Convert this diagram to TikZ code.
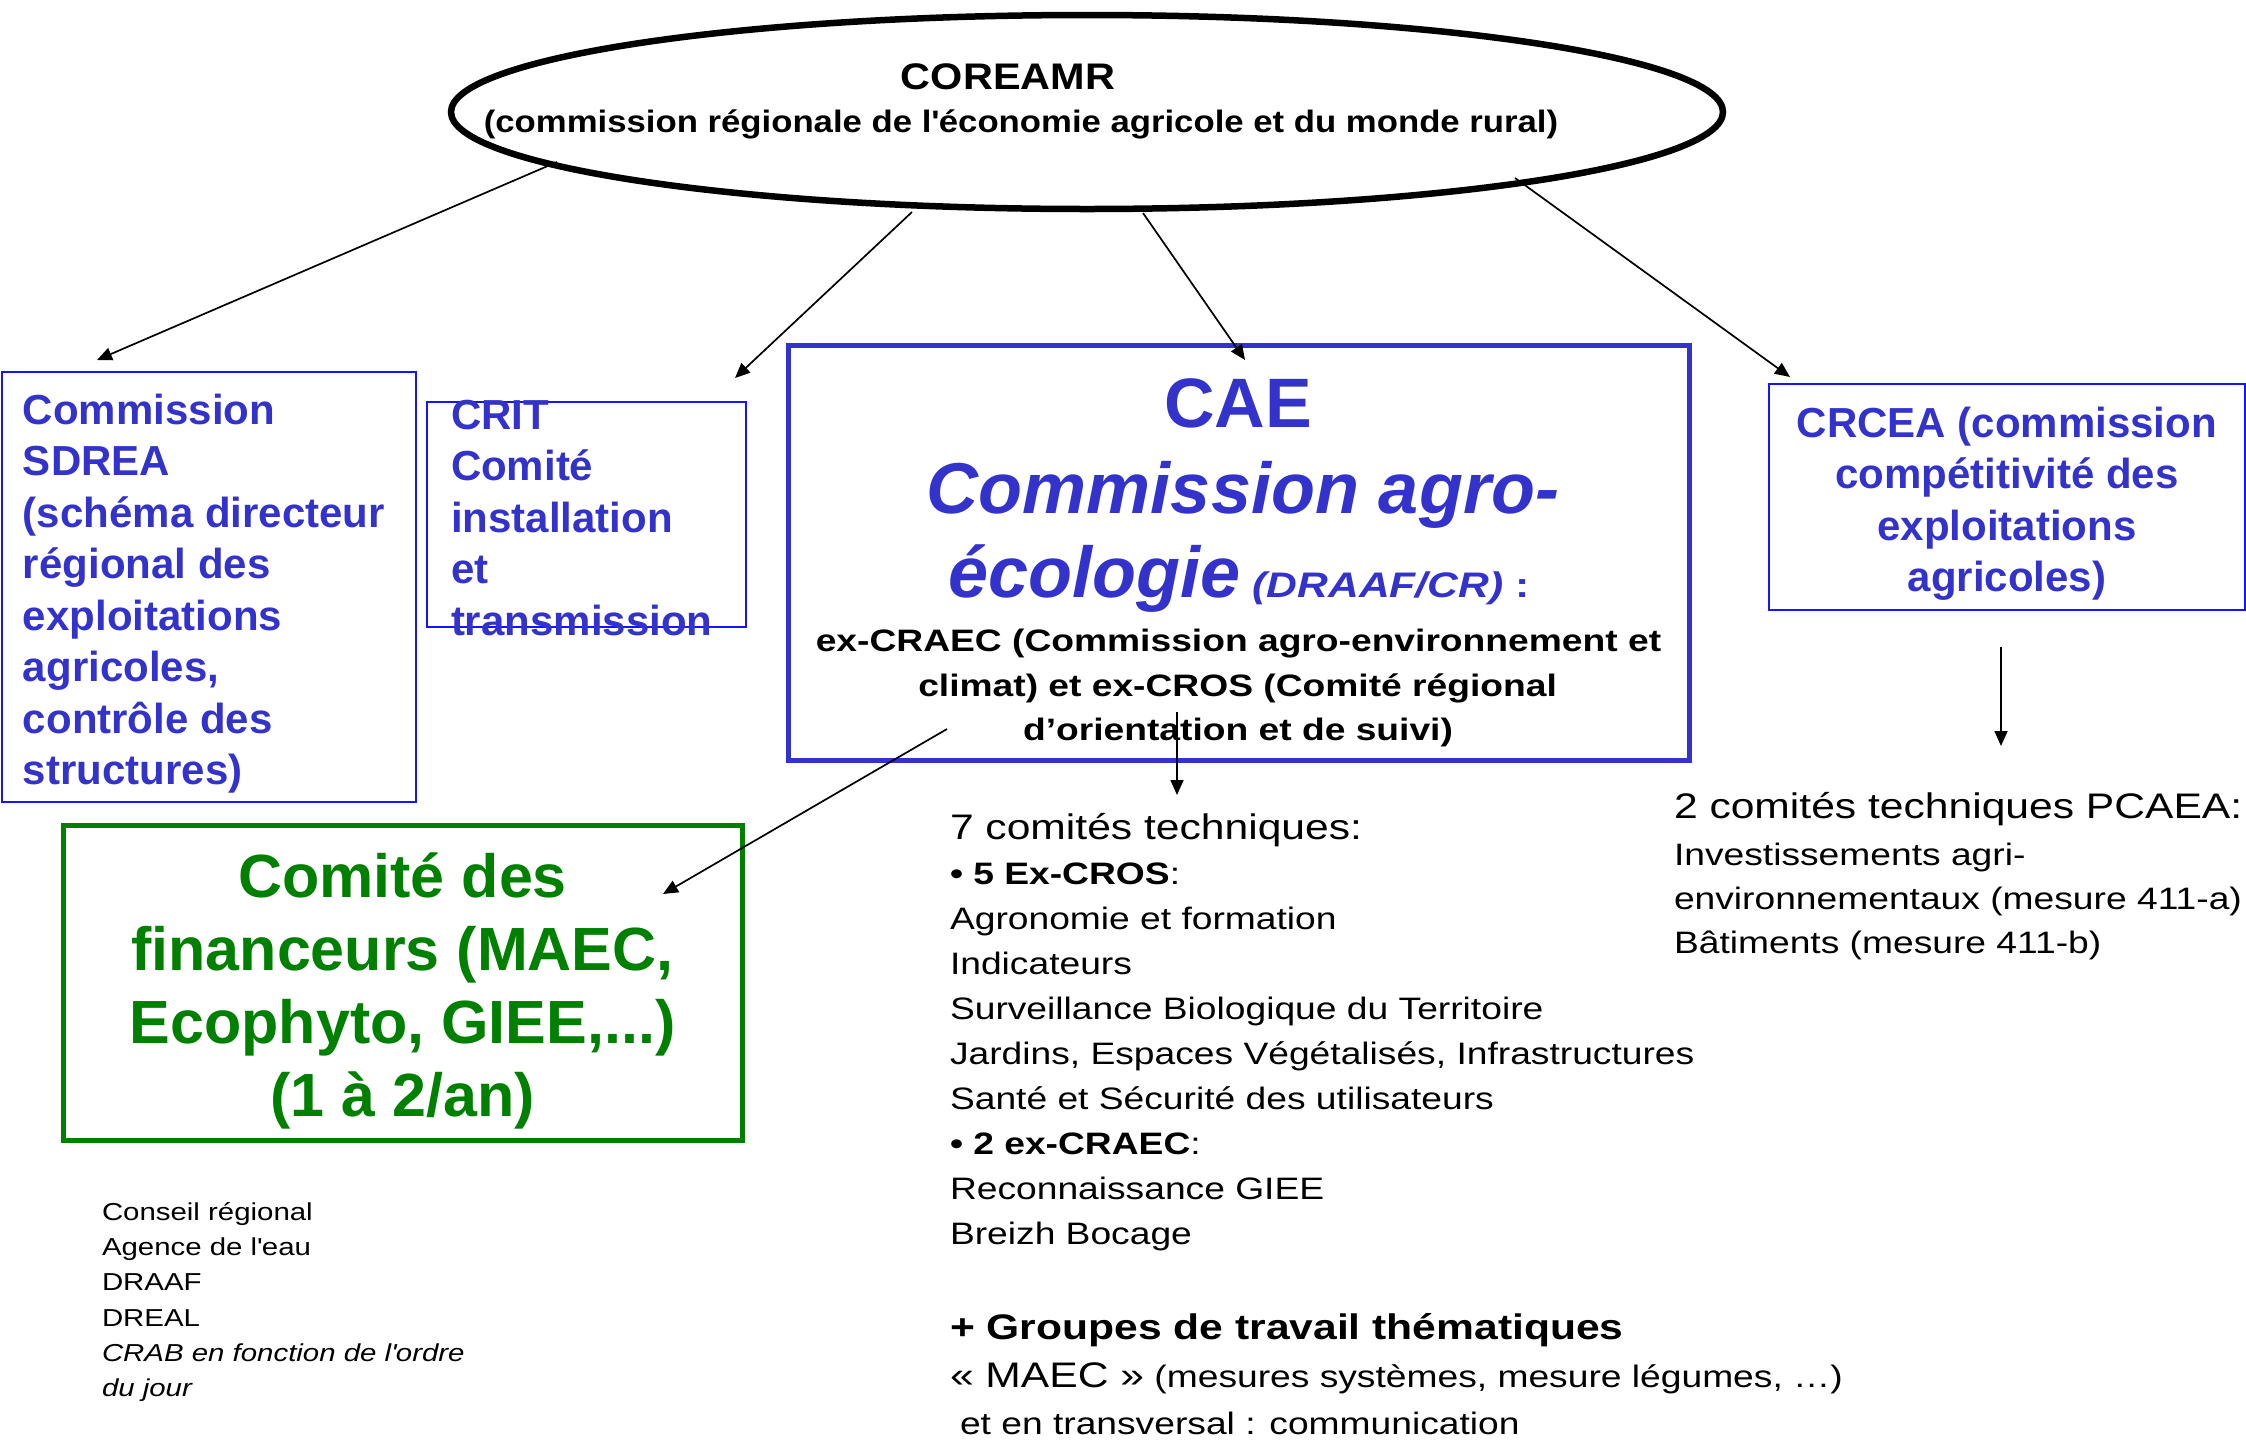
\documentclass[tikz,border=0pt]{standalone}
\usepackage{fontspec}
\setmainfont{Liberation Sans}
\newfontfamily\widefont[FakeStretch=1.2]{Liberation Sans}
\newfontfamily\ellfont[FakeStretch=1.12]{Liberation Sans}
\usetikzlibrary{arrows.meta,shapes.geometric}
\definecolor{blueT}{RGB}{51,51,204}
\definecolor{blueL}{RGB}{20,20,255}
\definecolor{greenT}{RGB}{0,128,0}
\newcommand\fsz[1]{\fontsize{#1}{#1}\selectfont}
\begin{document}
\begin{tikzpicture}[x=1pt,y=-1pt,
  txt/.style={inner sep=0pt, outer sep=0pt},
  bl/.style={txt, anchor=base west, text=blueT, font=\fsz{42}\bfseries},
  blc/.style={txt, anchor=base, text=blueT, font=\fsz{42}\bfseries},
  gr/.style={txt, anchor=base, text=greenT, font=\fsz{61}\bfseries},
  bk/.style={txt, anchor=base west, font=\widefont\fsz{31}},
  bkh/.style={txt, anchor=base west, font=\widefont\fsz{35.5}},
  bkb/.style={txt, anchor=base, font=\widefont\fsz{31}\bfseries},
  mem/.style={txt, anchor=base west, font=\widefont\fsz{24.5}},
  thinbox/.style={draw=blueL, line width=2pt, rectangle, inner sep=0pt},
  thickbox/.style={line width=5pt, rectangle, inner sep=0pt},
  arr/.style={line width=1.7pt, -{Triangle[length=15pt,width=13pt]}},
]
\useasboundingbox (0,0) rectangle (2246,1441);

% main ellipse
\node[ellipse, draw, line width=6.5pt, inner sep=0pt, minimum width=1272pt, minimum height=194pt] (coreamr) at (1087,112) {};
\node[txt, anchor=base, font=\ellfont\fsz{37}\bfseries] (t0) at (1008,89) {COREAMR};
\node[txt, anchor=base, font=\ellfont\fsz{31}\bfseries] (t1) at (1021,132) {(commission régionale de l\textquotesingle économie agricole et du monde rural)};

% boxes
\node[thinbox, minimum width=414pt, minimum height=430pt] (sdrea) at (208.5,587) {};
\node[thinbox, minimum width=319pt, minimum height=225pt] (crit) at (586.5,514.5) {};
\node[thickbox, draw=blueT, minimum width=901pt, minimum height=415pt] (cae) at (1238.5,552.5) {};
\node[thinbox, minimum width=476pt, minimum height=226pt] (crcea) at (2007,497) {};
\node[thickbox, draw=greenT, minimum width=679pt, minimum height=314.5pt] (fin) at (402.5,983) {};

% SDREA text
\foreach \t [count=\i from 0] in {{Commission}, {SDREA}, {(schéma directeur}, {régional des}, {exploitations}, {agricoles,}, {contrôle des}, {structures)}}
  \node[bl] (sd\i) at (23,424+51.5*\i) {\t};

% CRIT text
\foreach \t [count=\i from 0] in {{CRIT}, {Comité}, {installation}, {et}, {transmission}}
  \node[bl] (cr\i) at (451,429+51.5*\i) {\t};

% CRCEA text
\foreach \t [count=\i from 0] in {{CRCEA (commission}, {compétitivité des}, {exploitations}, {agricoles)}}
  \node[blc] (cc\i) at (2007,437+51.5*\i) {\t};

% CAE text
\node[txt, anchor=base, text=blueT, font=\fsz{70}\bfseries] (cae0) at (1238,427) {CAE};
\node[txt, anchor=base, text=blueT, font=\fsz{72}\bfseries\itshape] (cae1) at (1243,513) {Commission agro-};
\node[txt, anchor=base, text=blueT, font=\fsz{72}\bfseries\itshape] (cae2) at (1239,597) {écologie{\widefont\fsz{35.5}\bfseries\itshape\ (DRAAF/CR)\ \upshape:}};
\node[bkb] (cae3) at (1238.5,651.7) {ex-CRAEC (Commission agro-environnement et};
\node[bkb] (cae4) at (1237.6,696) {climat) et ex-CROS (Comité régional};
\node[bkb] (cae5) at (1238,740) {d’orientation et de suivi)};

% Comite des financeurs
\node[gr] (fi0) at (402.5,897) {Comité des};
\node[gr] (fi1) at (402.5,970) {financeurs (MAEC,};
\node[gr] (fi2) at (402.5,1043) {Ecophyto, GIEE,...)};
\node[gr] (fi3) at (402.5,1116) {(1 à 2/an)};

% members
\node[mem] (m0) at (102,1220) {Conseil régional};
\node[mem] (m1) at (102,1255.5) {Agence de l\textquotesingle eau};
\node[mem] (m2) at (102,1290.5) {DRAAF};
\node[mem] (m3) at (102,1326) {DREAL};
\node[mem, font=\widefont\fsz{24.5}\itshape] (m4) at (102,1361) {CRAB en fonction de l\textquotesingle ordre};
\node[mem, font=\widefont\fsz{24.5}\itshape] (m5) at (102,1396) {du jour};

% middle technical committees
\node[bkh] (c0) at (950,839) {7 comités techniques:};
\node[bk] (c1) at (950,884) {{\bfseries • 5 Ex-CROS}:};
\node[bk] (c2) at (950,929) {Agronomie et formation};
\node[bk] (c3) at (950,974) {Indicateurs};
\node[bk] (c4) at (950,1019) {Surveillance Biologique du Territoire};
\node[bk] (c5) at (950,1064) {Jardins, Espaces Végétalisés, Infrastructures};
\node[bk] (c6) at (950,1109) {Santé et Sécurité des utilisateurs};
\node[bk] (c7) at (950,1154) {{\bfseries • 2 ex-CRAEC}:};
\node[bk] (c8) at (950,1199) {Reconnaissance GIEE};
\node[bk] (c9) at (950,1244) {Breizh Bocage};
\node[bkh, font=\widefont\fsz{35.5}\bfseries] (g0) at (950,1339) {+ Groupes de travail thématiques};
\node[bk] (g1) at (950,1387) {{\fsz{35.5}« MAEC »} (mesures systèmes, mesure légumes, …)};
\node[bk] (g2) at (960,1434) {et en transversal : communication};

% right technical committees
\node[bkh] (r0) at (1674,818) {2 comités techniques PCAEA:};
\node[bk] (r1) at (1674,865) {Investissements agri-};
\node[bk] (r2) at (1674,909) {environnementaux (mesure 411-a)};
\node[bk] (r3) at (1674,953) {Bâtiments (mesure 411-b)};

% connectors
\coordinate (s1) at (557,162);  \coordinate (e1) at (97,360);
\coordinate (s2) at (912,212);  \coordinate (e2) at (735,378);
\coordinate (s3) at (1143,213); \coordinate (e3) at (1245,360);
\coordinate (s4) at (1515,178); \coordinate (e4) at (1790,377);
\coordinate (s5) at (2001,647); \coordinate (e5) at (2001,746);
\coordinate (s6) at (1177,712); \coordinate (e6) at (1177,795);
\coordinate (s7) at (947,729);  \coordinate (e7) at (663,894);
\foreach \k in {1,...,7}
  \draw[arr] (s\k) -- (e\k);
\end{tikzpicture}
\end{document}
